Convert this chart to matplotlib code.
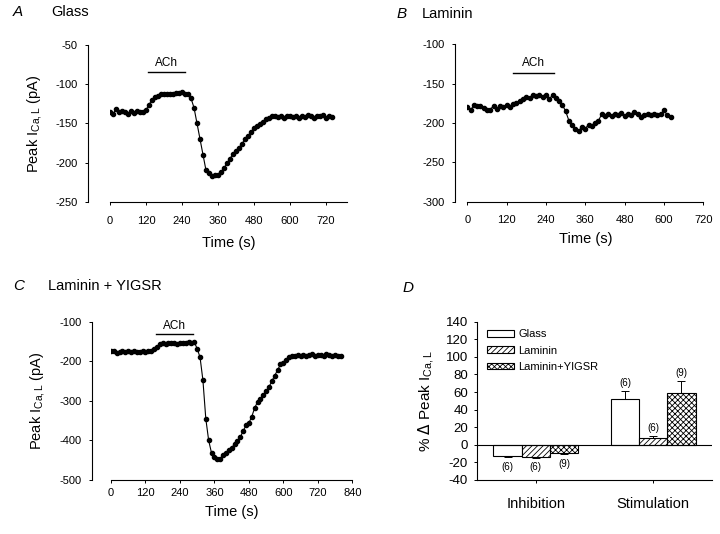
#!/usr/bin/env python3
"""
ACh effect on peak ICa,L: time courses (A-C) and summary bars (D)
"""
import numpy as np
import matplotlib.pyplot as plt

plt.rcParams['font.family'] = ['Liberation Sans', 'DejaVu Sans']
plt.rcParams['hatch.linewidth'] = 0.6
plt.rcParams['axes.unicode_minus'] = False

# Panel A: Glass (sampled every 10 s)
glass_t = list(range(0, 750, 10))
glass_i = [-135, -138, -132, -135, -134, -135, -138, -134, -137, -134,
           -136, -135, -133, -126, -120, -117, -115, -113, -113, -112,
           -113, -112, -111, -111, -110, -113, -113, -118, -130, -150,
           -170, -190, -210, -214, -217, -216, -216, -212, -207, -201,
           -195, -189, -185, -181, -176, -170, -166, -161, -156, -154,
           -151, -148, -145, -143, -141, -141, -142, -140, -143, -141,
           -140, -142, -141, -143, -140, -142, -139, -141, -143, -140,
           -141, -139, -143, -140, -142]

# Panel B: Laminin
laminin_t = list(range(0, 630, 10))
laminin_i = [-180, -184, -177, -179, -178, -181, -184, -183, -178, -182,
             -178, -180, -177, -180, -176, -175, -172, -170, -167, -168,
             -165, -166, -164, -167, -165, -169, -165, -168, -172, -177,
             -185, -197, -203, -207, -210, -205, -207, -202, -204, -200,
             -197, -189, -191, -189, -191, -188, -190, -187, -191, -189,
             -190, -186, -188, -193, -190, -189, -190, -188, -190, -189,
             -184, -190, -192]

# Panel C: Laminin + YIGSR
yigsr_t = list(range(0, 810, 10))
yigsr_i = [-175, -173, -178, -176, -174, -177, -175, -176, -174, -177,
           -176, -175, -177, -175, -173, -170, -163, -157, -155, -156,
           -153, -155, -154, -156, -153, -155, -154, -151, -155, -152,
           -168, -190, -248, -345, -400, -432, -443, -447, -446, -438,
           -432, -425, -418, -410, -402, -392, -376, -362, -356, -340,
           -318, -303, -296, -285, -276, -265, -250, -236, -222, -208,
           -205, -198, -190, -186, -187, -185, -186, -184, -187, -185,
           -182, -186, -185, -184, -186, -182, -184, -186, -185, -187,
           -186]

# Panel D: summary
groups = ['Inhibition', 'Stimulation']
substrates = ['Glass', 'Laminin', 'Laminin+YIGSR']
means = {'Glass': [-12.7, 52], 'Laminin': [-13.5, 7.5], 'Laminin+YIGSR': [-9.5, 58.5]}
sems = {'Glass': [1.5, 9], 'Laminin': [1.5, 2.5], 'Laminin+YIGSR': [1.5, 14]}
n_cells = {'Glass': [6, 6], 'Laminin': [6, 6], 'Laminin+YIGSR': [9, 9]}
hatches = {'Glass': '', 'Laminin': '//////', 'Laminin+YIGSR': 'xxxxxx'}

W, H = 720, 534
fig = plt.figure(figsize=(7.2, 5.34), dpi=100)


def px_axes(x0, x1, y_top, y_bot):
    return fig.add_axes([x0 / W, (H - y_bot) / H, (x1 - x0) / W, (y_bot - y_top) / H])


def style_trace(ax, offset_px, xpad=8, xlabelpad=7):
    ax.spines['top'].set_visible(False)
    ax.spines['right'].set_visible(False)
    ax.spines['left'].set_position(('outward', offset_px * 0.72))
    for s in ('left', 'bottom'):
        ax.spines[s].set_linewidth(0.8)
    ax.tick_params(direction='out', length=2.5, width=0.7, labelsize=8)
    ax.tick_params(axis='x', pad=xpad)
    ax.tick_params(axis='y', pad=5)
    ax.set_xlabel('Time (s)', fontsize=10.5, labelpad=xlabelpad)


def trace(ax, t, y):
    ax.plot(t, y, '-', color='black', lw=0.8)
    ax.plot(t, y, 'o', color='black', ms=3.0, mec='black')


def ach_bar(ax, t0, t1, y, ytxt):
    ax.plot([t0, t1], [y, y], color='black', lw=1.0)
    ax.text((t0 + t1) / 2, ytxt, 'ACh', ha='center', va='bottom', fontsize=8.5)


ylab = 'Peak I$_\\mathregular{Ca,L}$ (pA)'

# A
ax = px_axes(110, 347, 45, 201.7)
trace(ax, glass_t, glass_i)
ach_bar(ax, 128, 250, -84, -80)
ax.set_xlim(0, 790)
ax.set_ylim(-250, -50)
ax.set_xticks(range(0, 721, 120))
ax.set_yticks(range(-250, -49, 50))
style_trace(ax, 21.7)
ax.set_ylabel(ylab, fontsize=10.5, labelpad=8)

# B
ax = px_axes(467.3, 703.3, 44.3, 201.7)
trace(ax, laminin_t, laminin_i)
ach_bar(ax, 140, 265, -136, -132)
ax.set_xlim(0, 720)
ax.set_ylim(-300, -100)
ax.set_xticks(range(0, 721, 120))
ax.set_yticks(range(-300, -99, 50))
style_trace(ax, 12.3, xpad=7, xlabelpad=5)

# C
ax = px_axes(111, 352.3, 321.7, 480)
trace(ax, yigsr_t, yigsr_i)
ach_bar(ax, 157, 287, -132, -126)
ax.set_xlim(0, 840)
ax.set_ylim(-500, -100)
ax.set_xticks(range(0, 841, 120))
ax.set_yticks(range(-500, -99, 100))
style_trace(ax, 19.3, xpad=3, xlabelpad=5)
ax.set_ylabel(ylab, fontsize=10.5, labelpad=8)

# D
ax = px_axes(477, 712, 321.7, 480)
x = np.arange(len(groups))
width = 0.24
for k, sub in enumerate(substrates):
    pos = x + (k - 1) * width
    m = np.array(means[sub])
    e = np.array(sems[sub])
    ax.bar(pos, m, width, color='white', edgecolor='black', linewidth=0.8,
           hatch=hatches[sub], label=sub)
    lower = np.where(m < 0, e, 0)
    upper = np.where(m > 0, e, 0)
    ax.errorbar(pos, m, yerr=[lower, upper], fmt='none', ecolor='black',
                elinewidth=0.7, capsize=3, capthick=0.7)
    for p, v, er, n in zip(pos, m, e, n_cells[sub]):
        if v > 0:
            ax.text(p, v + er + 4, f'({n})', ha='center', va='bottom', fontsize=7)
        else:
            ax.text(p, v - er - 5, f'({n})', ha='center', va='top', fontsize=7)
ax.axhline(0, color='black', lw=0.8)
ax.set_xlim(-0.5, 1.5)
ax.set_ylim(-40, 140)
ax.set_yticks(range(-40, 141, 20))
ax.set_xticks(x)
ax.set_xticklabels(groups, fontsize=10.5)
ax.spines['top'].set_visible(False)
ax.spines['right'].set_visible(False)
ax.tick_params(axis='y', direction='out', length=2.5, width=0.7, labelsize=9.5, pad=4)
ax.tick_params(axis='x', direction='out', length=2.5, width=0.7, pad=10)
ax.set_ylabel('% $\\Delta$ Peak I$_\\mathregular{Ca,L}$', fontsize=11, labelpad=6)
ax.legend(loc='upper left', bbox_to_anchor=(0.01, 1.0), frameon=False, fontsize=8,
          handlelength=2.4, handleheight=0.5, labelspacing=0.55, handletextpad=0.4,
          borderaxespad=0.3)

# panel letters and titles
fig.text(13 / W, 1 - 12 / H, 'A', style='italic', fontsize=11, va='center')
fig.text(51 / W, 1 - 12 / H, 'Glass', fontsize=10.5, va='center')
fig.text(397 / W, 1 - 14 / H, 'B', style='italic', fontsize=11, va='center')
fig.text(422 / W, 1 - 14 / H, 'Laminin', fontsize=10.5, va='center')
fig.text(13 / W, 1 - 286 / H, 'C', style='italic', fontsize=11, va='center')
fig.text(48 / W, 1 - 286 / H, 'Laminin + YIGSR', fontsize=10.5, va='center')
fig.text(403 / W, 1 - 288 / H, 'D', style='italic', fontsize=11, va='center')

fig.savefig('out.png', dpi=100)
plt.close(fig)
